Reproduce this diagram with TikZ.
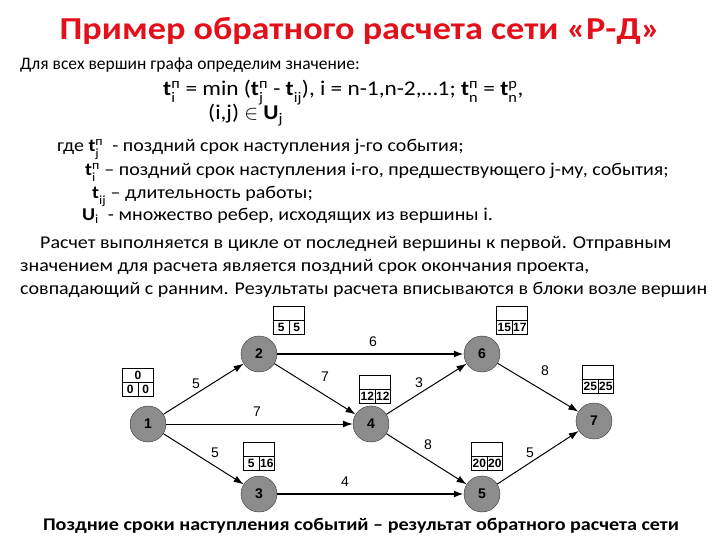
\documentclass[tikz,border=0pt]{standalone}
\usepackage{amsmath}
\usepackage{fontspec}
\setmainfont{Carlito}
\newfontfamily\bodyf{Carlito}[FakeStretch=1.11]
\newfontfamily\titlef{Carlito}[FakeStretch=1.13]
\newfontfamily\arialf{Liberation Sans}
\usetikzlibrary{arrows.meta}
\definecolor{titlered}{HTML}{E3101C}
\definecolor{nodegray}{HTML}{8C8C8C}

% t with upper and lower index
\newcommand{\tv}[2]{\textbf{t}$^{\text{#1}}_{\text{\raisebox{-1.5pt}{#2}}}$}
% box of times beside an event
\newcommand{\timebox}[5]{%
  \node[tbox] (#1) at (#2) {};
  \draw[line width=0.7pt] (#1.west) -- (#1.east) (#1.center) -- (#1.south);
  \node[tnum] (#1-t) at ([yshift=7pt]#1.center) {#3};
  \node[tnum] (#1-l) at ([xshift=-7.75pt,yshift=-7pt]#1.center) {#4};
  \node[tnum] (#1-r) at ([xshift=7.75pt,yshift=-7pt]#1.center) {#5};
}

\tikzset{
  event/.style={circle, draw=black!80, fill=nodegray, minimum size=36pt, inner sep=0pt,
    font=\arialf\bfseries\fontsize{14}{14}\selectfont},
  work/.style={-{Latex[length=10pt,width=7pt]}, line width=1pt},
  crit/.style={work, line width=1.8pt},
  wlabel/.style={font=\arialf\fontsize{14}{14}\selectfont},
  tbox/.style={draw, minimum width=31pt, minimum height=28pt, inner sep=0pt, line width=0.7pt},
  tnum/.style={font=\arialf\bfseries\fontsize{12}{12}\selectfont, inner sep=0pt},
  txt/.style={anchor=base west, inner sep=0pt, font=\bodyf\fontsize{18}{20}\selectfont},
}

\begin{document}
\begin{tikzpicture}[x=1pt, y=-1pt]
  \useasboundingbox (0,0) rectangle (720,540);

  % title and text
  \node[anchor=base, inner sep=0pt, text=titlered, font=\titlef\bfseries\fontsize{32}{32}\selectfont]
    (title) at (360,40) {Пример обратного расчета сети «Р-Д»};
  \node[txt, font=\fontsize{17.5}{20}\selectfont] (intro) at (20,70) {Для всех вершин графа определим значение:};
  \node[txt, font=\bodyf\fontsize{21}{24}\selectfont] (form1) at (163,96)
    {\tv{п}{i} = min (\tv{п}{j} - \tv{}{ij}), i = n-1,n-2,…1; \tv{п}{n} = \tv{р}{n},};
  \node[txt, font=\bodyf\fontsize{21}{24}\selectfont] (form2) at (208,120)
    {(i,j) $\in$ \textbf{U}$_{\text{j}}$};
  \node[txt] (where1) at (57,152) {где \tv{п}{j} \ -  поздний срок наступления j-го события;};
  \node[txt] (where2) at (85,176) {\tv{п}{i} – поздний срок наступления i-го, предшествующего j-му, события;};
  \node[txt] (where3) at (92,199) {\tv{}{ij} – длительность работы;};
  \node[txt] (where4) at (82,221) {\textbf{U}$_{\text{i}}$ \ -  множество ребер, исходящих из вершины i.};
  \node[txt] (par1) at (40,248) {Расчет выполняется в цикле от последней вершины к первой. Отправным};
  \node[txt] (par2) at (20,271) {значением для расчета является поздний срок окончания проекта,};
  \node[txt] (par3) at (20,294) {совпадающий с ранним. Результаты расчета вписываются в блоки возле вершин};

  % events
  \node[event] (n1) at (148,424) {1};
  \node[event] (n2) at (259,354) {2};
  \node[event] (n3) at (259,494) {3};
  \node[event] (n4) at (371,424) {4};
  \node[event] (n5) at (482,494) {5};
  \node[event] (n6) at (482,354) {6};
  \node[event] (n7) at (594,421) {7};

  % works
  \draw[work] (n1) -- (n2);
  \draw[work] (n1) -- (n4);
  \draw[work] (n1) -- (n3);
  \draw[crit] (n2) -- (n6);
  \draw[work] (n2) -- (n4);
  \draw[work] (n4) -- (n6);
  \draw[work] (n4) -- (n5);
  \draw[crit] (n3) -- (n5);
  \draw[work] (n6) -- (n7);
  \draw[work] (n5) -- (n7);

  \node[wlabel] (w12) at (196,384) {5};
  \node[wlabel] (w14) at (257,412) {7};
  \node[wlabel] (w13) at (215,453) {5};
  \node[wlabel] (w26) at (373,342) {6};
  \node[wlabel] (w24) at (325,377) {7};
  \node[wlabel] (w46) at (419,383) {3};
  \node[wlabel] (w45) at (428,445) {8};
  \node[wlabel] (w35) at (345,482) {4};
  \node[wlabel] (w67) at (545,371) {8};
  \node[wlabel] (w57) at (530,453) {5};

  % time boxes
  \timebox{b1}{138,382}{0}{0}{0}
  \timebox{b2}{289,320}{}{5}{5}
  \timebox{b3}{259,456}{}{5}{16}
  \timebox{b4}{375,389}{}{12}{12}
  \timebox{b5}{487,456}{}{20}{20}
  \timebox{b6}{512,320}{}{15}{17}
  \timebox{b7}{598,379}{}{25}{25}

  \node[anchor=base, inner sep=0pt, font=\titlef\bfseries\fontsize{17.8}{19}\selectfont]
    (caption) at (361,530) {Поздние сроки наступления событий – результат обратного расчета сети};
\end{tikzpicture}
\end{document}
